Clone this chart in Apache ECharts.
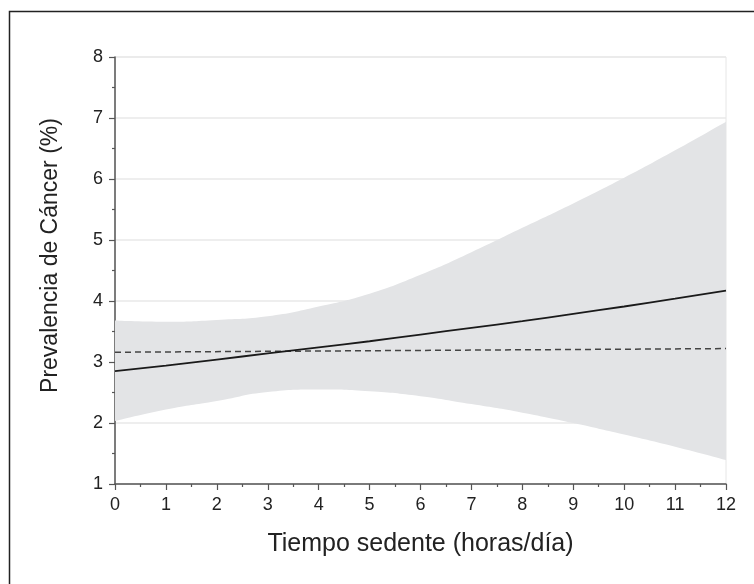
<!DOCTYPE html>
<html>
<head>
<meta charset="utf-8">
<script src="https://cdn.jsdelivr.net/npm/echarts@6/dist/echarts.min.js"></script>
<style>
  html, body { margin: 0; padding: 0; background: #fff; }
  #chartBox { width: 754px; height: 584px; }
</style>
</head>
<body>
<div id="chartBox"></div>
<script>
// horas/día
const hours = [0, 1, 2, 3, 4, 5, 6, 7, 8, 9, 10, 11, 12];
const meanPrev = [2.85, 2.94, 3.04, 3.14, 3.24, 3.34, 3.45, 3.56, 3.67, 3.79, 3.91, 4.04, 4.17];
const upperCI = [3.68, 3.66, 3.69, 3.75, 3.91, 4.12, 4.43, 4.80, 5.20, 5.60, 6.02, 6.47, 6.94];
const lowerCI = [2.03, 2.22, 2.36, 2.51, 2.55, 2.52, 2.44, 2.31, 2.17, 2.00, 1.81, 1.61, 1.39];
const refHours = [0, 12];
const refPrev = [3.16, 3.22];

const font = "'Liberation Sans', Arial, sans-serif";
const axisColor = "#555";

const chartFun = () => {
  const myChart = echarts.init(document.getElementById("chartBox"));
  const option = {
    animation: false,
    textStyle: { fontFamily: font },
    graphic: [
      {
        type: "rect",
        left: 7,
        top: 9,
        shape: { width: 760, height: 600 },
        style: { fill: "none", stroke: "#222", lineWidth: 1.5 },
        z: 100,
      },
    ],
    grid: {
      left: 115,
      top: 57,
      right: 28,
      bottom: 100,
      show: true,
      borderColor: "#e6e6e6",
      borderWidth: 1,
    },
    xAxis: {
      type: "value",
      min: 0,
      max: 12,
      interval: 1,
      name: "Tiempo sedente (horas/día)",
      nameLocation: "middle",
      nameGap: 48,
      nameTextStyle: { fontSize: 25, color: "#222", fontFamily: font },
      axisLine: { onZero: false, lineStyle: { color: axisColor, width: 1.5 } },
      axisTick: { length: 6, lineStyle: { color: axisColor, width: 1.2 } },
      minorTick: { show: true, splitNumber: 2, length: 3, lineStyle: { color: axisColor, width: 1.2 } },
      axisLabel: { fontSize: 18, color: "#222", margin: 12, fontFamily: font },
      splitLine: { show: false },
    },
    yAxis: {
      type: "value",
      min: 1,
      max: 8,
      interval: 1,
      name: "Prevalencia de Cáncer (%)",
      nameLocation: "middle",
      nameGap: 53,
      nameTextStyle: { fontSize: 23, color: "#222", fontFamily: font, padding: [0, 0, 0, 30] },
      axisLine: { show: true, onZero: false, lineStyle: { color: axisColor, width: 1.5 } },
      axisTick: { show: true, length: 6, lineStyle: { color: axisColor, width: 1.2 } },
      minorTick: { show: true, splitNumber: 2, length: 3, lineStyle: { color: axisColor, width: 1.2 } },
      axisLabel: { fontSize: 18, color: "#222", margin: 12, fontFamily: font },
      splitLine: { show: true, lineStyle: { color: "#e8e8e8", width: 1.5 } },
    },
    series: [
      {
        // data as [y, x] so the stack works on the y values
        name: "lower",
        type: "line",
        stack: "ci",
        smooth: true,
        symbol: "none",
        encode: { x: 1, y: 0 },
        lineStyle: { opacity: 0 },
        data: hours.map((h, i) => [lowerCI[i], h]),
        z: 1,
      },
      {
        name: "band",
        type: "line",
        stack: "ci",
        smooth: true,
        symbol: "none",
        encode: { x: 1, y: 0 },
        lineStyle: { opacity: 0 },
        areaStyle: { color: "#e3e4e6", opacity: 1 },
        data: hours.map((h, i) => [+(upperCI[i] - lowerCI[i]).toFixed(3), h]),
        z: 1,
      },
      {
        name: "referencia",
        type: "line",
        symbol: "none",
        lineStyle: { color: "#444", width: 1.5, type: [6, 4] },
        data: refHours.map((h, i) => [h, refPrev[i]]),
        z: 3,
      },
      {
        name: "prevalencia",
        type: "line",
        smooth: true,
        symbol: "none",
        lineStyle: { color: "#1a1a1a", width: 1.8 },
        data: hours.map((h, i) => [h, meanPrev[i]]),
        z: 4,
      },
    ],
  };
  myChart.setOption(option);
};

chartFun();
</script>
</body>
</html>
